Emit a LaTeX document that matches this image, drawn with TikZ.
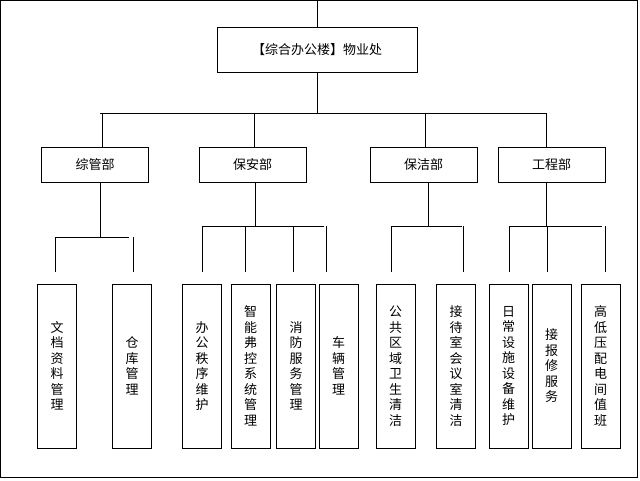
\documentclass[tikz,border=0pt]{standalone}
\usepackage{fontspec}
\setmainfont{Noto Sans CJK SC}
\usetikzlibrary{positioning}

\begin{document}
\begin{tikzpicture}[x=1pt, y=-1pt,
    box/.style={draw, thick, inner sep=0pt},
    dept/.style={box, minimum width=107pt, minimum height=35pt, font=\fontsize{13}{15}\selectfont},
    leaf/.style={box, minimum width=39pt, minimum height=164pt, align=center, font=\fontsize{13}{15.5}\selectfont},
    link/.style={thick}]
    % Frame
    \draw[thick] (0.5,0.5) rectangle (637,477);
    \useasboundingbox (0,0) rectangle (640,480);

    % Head office
    \node[box, minimum width=200pt, minimum height=45pt, font=\fontsize{13}{15}\selectfont] (top) at (317,49.5) {【综合办公楼】物业处};
    \coordinate (in) at (317,0);
    \draw[link] (in) -- (top.north);

    % Departments
    \node[dept] (zg) at (95,165) {综管部};
    \node[dept] (ba) at (252.5,165) {保安部};
    \node[dept] (bj) at (423.5,165) {保洁部};
    \node[dept] (gc) at (551.5,165) {工程部};
    \coordinate (bus) at (317,113);
    \draw[link] (top.south) -- (bus);
    \draw[link] (100,113) -- (546,113);
    \foreach \d/\x in {zg/102, ba/254, bj/425, gc/546}
        \draw[link] (\x,113) -- (\x,147);

    % Leaves
    \node[leaf] (wd) at (57,366) {文\\档\\资\\料\\管\\理};
    \node[leaf] (ck) at (132,366) {仓\\库\\管\\理};
    \node[leaf] (bg) at (202,366) {办\\公\\秩\\序\\维\\护};
    \node[leaf] (zn) at (250.5,366) {智\\能\\弗\\控\\系\\统\\管\\理};
    \node[leaf] (xf) at (296,366) {消\\防\\服\\务\\管\\理};
    \node[leaf] (cl) at (338.5,366) {车\\辆\\管\\理};
    \node[leaf] (gg) at (395.5,366) {公\\共\\区\\域\\卫\\生\\清\\洁};
    \node[leaf] (jd) at (456,366) {接\\待\\室\\会\\议\\室\\清\\洁};
    \node[leaf] (rc) at (508.5,366) {日\\常\\设\\施\\设\\备\\维\\护};
    \node[leaf] (jb) at (551.5,366) {接\\报\\修\\服\\务};
    \node[leaf] (gd) at (600.5,366) {高\\低\\压\\配\\电\\间\\值\\班};

    % Branches
    \coordinate (zgj) at (100,237);
    \draw[link] (zg.south -| zgj) -- (zgj);
    \draw[link] (56,237) -- (129,237);
    \draw[link] (55,237) -- (55,272);
    \draw[link] (133,237) -- (133,272);

    \coordinate (baj) at (255,226);
    \draw[link] (ba.south -| baj) -- (baj);
    \draw[link] (202,226) -- (324,226);
    \foreach \x in {202,245,293,326}
        \draw[link] (\x,226) -- (\x,272);

    \coordinate (bjj) at (428,226);
    \draw[link] (bj.south -| bjj) -- (bjj);
    \draw[link] (391,226) -- (462,226);
    \foreach \x in {391,463}
        \draw[link] (\x,226) -- (\x,272);

    \coordinate (gcj) at (546,226);
    \draw[link] (gc.south -| gcj) -- (gcj);
    \draw[link] (509,226) -- (602,226);
    \foreach \x in {509,547,605}
        \draw[link] (\x,226) -- (\x,272);
\end{tikzpicture}
\end{document}
